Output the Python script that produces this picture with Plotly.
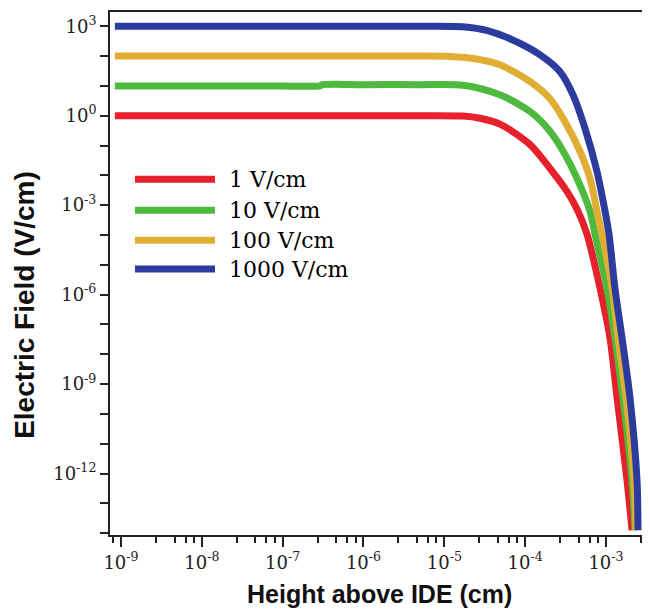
import plotly.graph_objects as go

# ---- data ----
series_names = ["1 V/cm", "10 V/cm", "100 V/cm", "1000 V/cm"]
series_colors = ["#E6212B", "#4DBA3D", "#E0AE34", "#2B3C9E"]

h_1 = [8.4e-10, 1e-8, 1e-7, 1e-6, 5e-6, 1.70e-5, 2.76e-5, 4.88e-5, 1.15e-4, 2.03e-4, 3.29e-4,
       4.51e-4, 5.82e-4, 8.43e-4, 1.12e-3, 1.37e-3, 1.82e-3, 2.10e-3]
e_1 = [1, 1, 1, 1, 1, 0.97, 0.82, 0.52, 0.107, 0.017, 2.9e-3,
       6.3e-4, 1.07e-4, 1.66e-6, 3.5e-8, 3.5e-10, 5.9e-13, 1.26e-14]

h_10 = [8.4e-10, 1e-8, 1e-7, 2.90e-7, 3.07e-7, 1e-6, 5e-6, 1.70e-5, 4.88e-5, 1.15e-4, 2.03e-4,
        3.11e-4, 4.38e-4, 6.34e-4, 7.31e-4, 1.03e-3, 1.29e-3, 1.62e-3, 2.10e-3, 2.29e-3]
e_10 = [10, 10, 10, 10, 11, 11, 11, 10.5, 5.0, 1.38, 0.30,
        0.050, 7.9e-3, 6.3e-4, 1.07e-4, 1.66e-6, 3.5e-8, 3.5e-10, 5.9e-13, 1.26e-14]

h_100 = [8.4e-10, 1e-8, 1e-7, 1e-6, 5e-6, 1.17e-5, 2.5e-5, 4.88e-5, 1.15e-4, 2.03e-4, 3.11e-4, 4.78e-4,
         6.34e-4, 7.74e-4, 8.93e-4, 1.19e-3, 1.41e-3, 1.77e-3, 2.22e-3, 2.35e-3]
e_100 = [100, 100, 100, 100, 100, 97, 80, 51, 13.8, 3.7, 0.63, 0.063,
         7.9e-3, 6.3e-4, 1.07e-4, 1.66e-6, 3.5e-8, 3.5e-10, 5.9e-13, 1.26e-14]

h_1000 = [8.4e-10, 1e-8, 1e-7, 1e-6, 5e-6, 1.70e-5, 3.5e-5, 6.50e-5, 1.53e-4, 2.70e-4, 3.91e-4,
          5.51e-4, 7.74e-4, 9.73e-4, 1.09e-3, 1.29e-3, 1.58e-3, 1.98e-3, 2.42e-3, 2.49e-3]
e_1000 = [1000, 1000, 1000, 1000, 1000, 960, 700, 380, 110, 30, 5.0,
          0.37, 0.0135, 6.3e-4, 1.07e-4, 1.66e-6, 3.5e-8, 3.5e-10, 5.9e-13, 1.26e-14]

x_tick_exps = [-9, -8, -7, -6, -5, -4, -3]
y_label_exps = [3, 0, -3, -6, -9, -12]
y_minor_exps = [2, 1, -1, -2, -4, -5, -7, -8, -10, -11, -13, -14]
x_minor_mantissas = [2.7, 4.6, 6.3, 8.0]

heights = [h_1, h_10, h_100, h_1000]
fields = [e_1, e_10, e_100, e_1000]

fig = go.Figure()
for name, col, hx, ey in zip(series_names, series_colors, heights, fields):
    fig.add_trace(go.Scatter(
        x=hx, y=ey, mode="lines", name=name, showlegend=False,
        line=dict(color=col, width=7, shape="spline", smoothing=0.8),
    ))

# manual legend (long line samples like the reference)
leg_y = [0.680, 0.621, 0.5638, 0.5086]
for name, col, yy in zip(series_names, series_colors, leg_y):
    fig.add_shape(type="line", xref="paper", yref="paper",
                  x0=0.0466, x1=0.1959, y0=yy, y1=yy,
                  line=dict(color=col, width=7))
    fig.add_annotation(xref="paper", yref="paper", x=0.2183, y=yy,
                       xanchor="left", yanchor="middle", showarrow=False,
                       text=name, font=dict(family="DejaVu Serif", size=22, color="#000"))

tick_font = dict(family="DejaVu Serif", size=18, color="#222")

x_tickvals = [10.0 ** e for e in x_tick_exps]
x_ticktext = ["10<sup>-%d</sup>" % (-e) for e in x_tick_exps]
x_minor = [m * 10.0 ** e for e in range(-10, -1) for m in x_minor_mantissas]

y_tickvals = [10.0 ** e for e in y_label_exps]
y_ticktext = ["10<sup>%s</sup>" % (str(e) if e >= 0 else "-" + str(-e)) for e in y_label_exps]
y_minor = [10.0 ** e for e in y_minor_exps]

fig.update_xaxes(
    type="log", range=[-9.136, -2.505],
    tickmode="array", tickvals=x_tickvals, ticktext=x_ticktext,
    ticks="outside", ticklen=10, tickwidth=2, tickcolor="#222",
    minor=dict(tickvals=x_minor, ticks="outside", ticklen=6, tickwidth=2, tickcolor="#222", showgrid=False),
    showline=True, linewidth=2, linecolor="#222", mirror=True,
    showgrid=False, zeroline=False, tickfont=tick_font,
)
fig.update_yaxes(
    type="log", range=[-14.06, 3.478],
    tickmode="array", tickvals=y_tickvals, ticktext=y_ticktext,
    ticks="outside", ticklen=8, tickwidth=2, tickcolor="#222",
    minor=dict(tickvals=y_minor, ticks="outside", ticklen=8, tickwidth=2, tickcolor="#222", showgrid=False),
    showline=True, linewidth=2, linecolor="#222", mirror=True,
    showgrid=False, zeroline=False, tickfont=tick_font,
)

fig.add_annotation(xref="paper", yref="paper", x=0.502, y=-0.112,
                   xanchor="center", yanchor="middle", showarrow=False,
                   text="<b>Height above IDE (cm)</b>",
                   font=dict(family="Liberation Sans", size=25, color="#111"))
fig.add_annotation(xref="paper", yref="paper", x=-0.1586, y=0.44,
                   xanchor="center", yanchor="middle", showarrow=False, textangle=-90,
                   text="<b>Electric Field (V/cm)</b>",
                   font=dict(family="Liberation Sans", size=28, color="#111"))

# the page body adds an 8px offset, so the figure is sized/margined to land
# the plot frame where the reference has it
fig.update_layout(
    width=642, height=604,
    margin=dict(l=102, r=4, t=2, b=77),
    plot_bgcolor="white", paper_bgcolor="white",
)

fig.write_html("out.html")
